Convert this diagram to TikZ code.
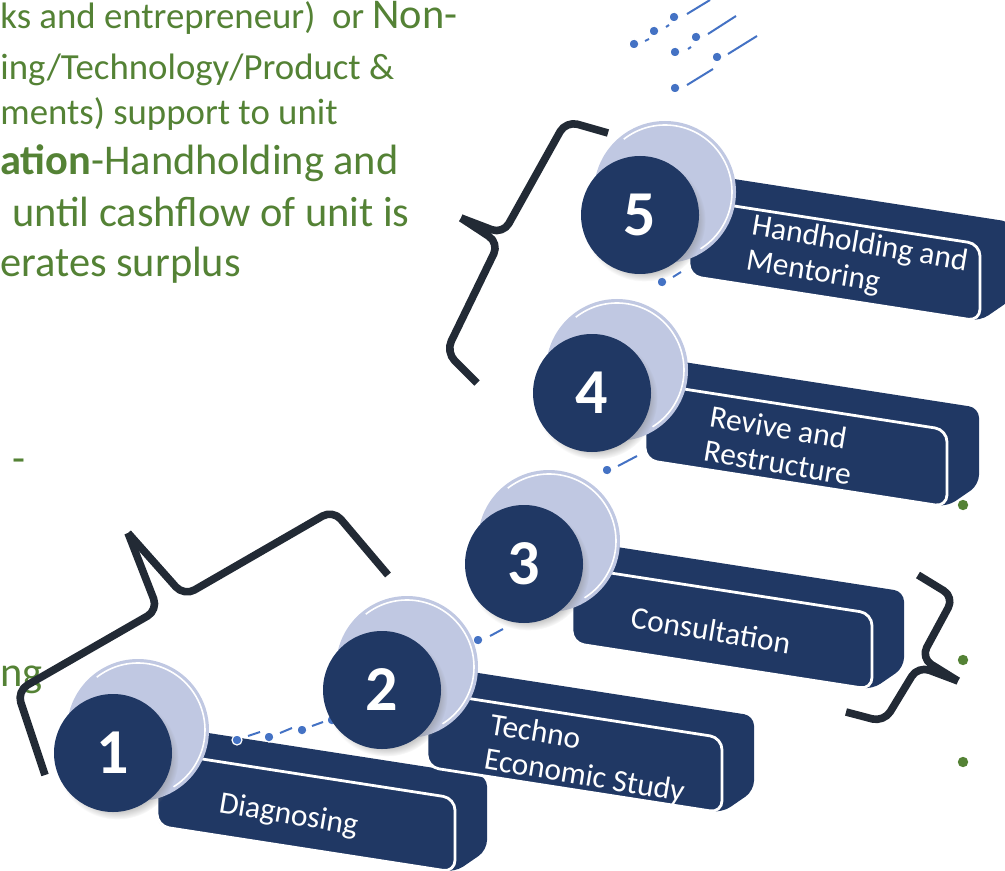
\documentclass[tikz,border=0pt]{standalone}
\usepackage{fontspec}
\setmainfont{Carlito}
\usetikzlibrary{calc,shadows}

\definecolor{navy}{RGB}{32,56,100}
\definecolor{lavender}{RGB}{192,200,226}
\definecolor{leafgreen}{RGB}{84,130,53}
\definecolor{dotblue}{RGB}{68,114,196}
\definecolor{bracegray}{RGB}{34,42,53}

\newcommand{\smalltxt}{\fontsize{18.4}{22}\selectfont}
\newcommand{\bigtxt}{\fontsize{21.2}{25}\selectfont}

% slanted bar: left x, top y, width, height
\newcommand{\stepbar}[4]{%
  \fill[navy, rounded corners=5pt] ({#1},{#2+#4}) -- ({#1},{#2}) -- ({#1+32},{#2-22})
    -- ({#1+#3+32},{#2+0.155*#3-22}) -- ({#1+#3+32},{#2+0.155*#3+#4-22})
    -- ({#1+#3},{#2+0.155*#3+#4}) -- cycle;
  \filldraw[fill=navy, draw=white, line width=1.4pt, rounded corners=6pt]
    ({#1},{#2}) -- ({#1+#3},{#2+0.155*#3}) -- ({#1+#3},{#2+0.155*#3+#4}) -- ({#1},{#2+#4}) -- cycle;
}

% light disk behind a number
\newcommand{\stepdisk}[1]{%
  \fill[lavender] ($(#1)+(25,-23)$) circle[radius=35.5pt];
  \draw[white, line width=0.8pt] ($(#1)+(25,-23)$) ++(128:33.5pt) arc[start angle=128, end angle=-58, radius=33.5pt];
}

\begin{document}
\begin{tikzpicture}[x=0.5pt, y=-0.5pt,
  stepnum/.style={circle, fill=navy, text=white, minimum size=59pt, inner sep=0pt,
    font=\fontsize{32}{32}\selectfont\bfseries,
    circular drop shadow={shadow xshift=2pt, shadow yshift=-2.5pt, shadow scale=1.04, opacity=.45}},
  bartext/.style={text=white, rotate=-9.5, anchor=west, align=left, inner sep=0pt,
    font=\fontsize{15.7}{18}\selectfont, execute at begin node={\setlength{\baselineskip}{17.5pt}}},
  greentxt/.style={text=leafgreen, inner sep=0pt, anchor=base west},
  curly/.style={draw=bracegray, line width=3.8pt, rounded corners=6pt, line join=round},
  bdot/.style={fill=dotblue, draw=white, line width=0.6pt},
  bdash/.style={draw=dotblue, line width=1pt},
]
\useasboundingbox (0,0) rectangle (1005,871);
\clip (0,0) rectangle (1005,871);

% text on the left
\node[greentxt] (t1) at (0,29) {\smalltxt ks and entrepreneur)\ \ or \bigtxt Non-};
\node[greentxt] (t2) at (0,80) {\smalltxt ing/Technology/Product \&};
\node[greentxt] (t3) at (0,125) {\smalltxt ments) support to unit};
\node[greentxt] (t4) at (0,175) {\bigtxt\textbf{ation}-Handholding and};
\node[greentxt, anchor=base east] (t5) at (410,227) {\bigtxt until cashflow of unit is};
\node[greentxt] (t6) at (0,277) {\bigtxt erates surplus};
\node[greentxt] (t7) at (12,472) {\bigtxt -};
\node[greentxt] (t8) at (0,686) {\bigtxt ng};

% bullets on the right
\foreach \y in {505,660,762}
  \fill[leafgreen] (963,\y) circle[radius=2.6pt];

% braces
\draw[curly] (608,133) -- (566,121) -- (503,234) -- (461,218);
\draw[curly] (461,218) -- (499,243) -- (446,352) -- (477,383);
\draw[curly] (45,775) -- (17,691) -- (158,610) -- (128,533);
\draw[curly] (128,533) -- (184,596) -- (333,510) -- (388,575);
\draw[curly] (918,575) -- (954,597) -- (921,658) -- (958,681);
\draw[curly] (958,681) -- (918,666) -- (884,722) -- (846,712);

% bars
\stepbar{689}{199}{291}{77}
\stepbar{645}{383}{302}{77}
\stepbar{572}{567}{300}{76}
\stepbar{157}{752}{298}{74}
\stepbar{427}{692}{295}{75}

% dot-dash trails
\foreach \p in {(237,740),(269,737),(302,730),(332,720),(478,640),(607,470),(662,282),
                (634,44),(654,31),(674,17),(696,37),(675,52),(717,57),(675,88)}
  \filldraw[bdot] \p circle[radius=2.5pt];
\foreach \a/\b in {{(248,736)}/{(260,732)},{(280,733)}/{(292,728)},{(312,726)}/{(323,722)},
                   {(490,636)}/{(503,629)},{(618,466)}/{(637,456)},{(673,277)}/{(681,272)},
                   {(687,14)}/{(710,0)},{(708,34)}/{(736,16)},{(728,54)}/{(757,36)},{(687,85)}/{(713,69)},
                   {(645,41)}/{(649,39)},{(666,27)}/{(669,25)},{(688,49)}/{(691,47)}}
  \draw[bdash] \a -- \b;

% steps
\coordinate (c5) at (640,215);
\coordinate (c4) at (592,393);
\coordinate (c3) at (524,564);
\coordinate (c2) at (382,690);
\coordinate (c1) at (113,753);
\stepdisk{c5}
\node[stepnum] (s5) at (c5) {5};
\stepdisk{c4}
\node[stepnum] (s4) at (c4) {4};
\stepdisk{c3}
\node[stepnum] (s3) at (c3) {3};
\stepdisk{c2}
\node[stepnum] (s2) at (c2) {2};
\stepdisk{c1}
\node[stepnum] (s1) at (c1) {1};

% labels
\node[bartext] (l5) at (749,244) {Handholding and\\Mentoring};
\node[bartext] (l4) at (707,433) {Revive and\\Restructure};
\node[bartext] (l3) at (631,617) {Consultation};
\node[bartext] (l2) at (487,743) {Techno\\Economic Study};
\node[bartext] (l1) at (219,804) {Diagnosing};
\end{tikzpicture}
\end{document}
